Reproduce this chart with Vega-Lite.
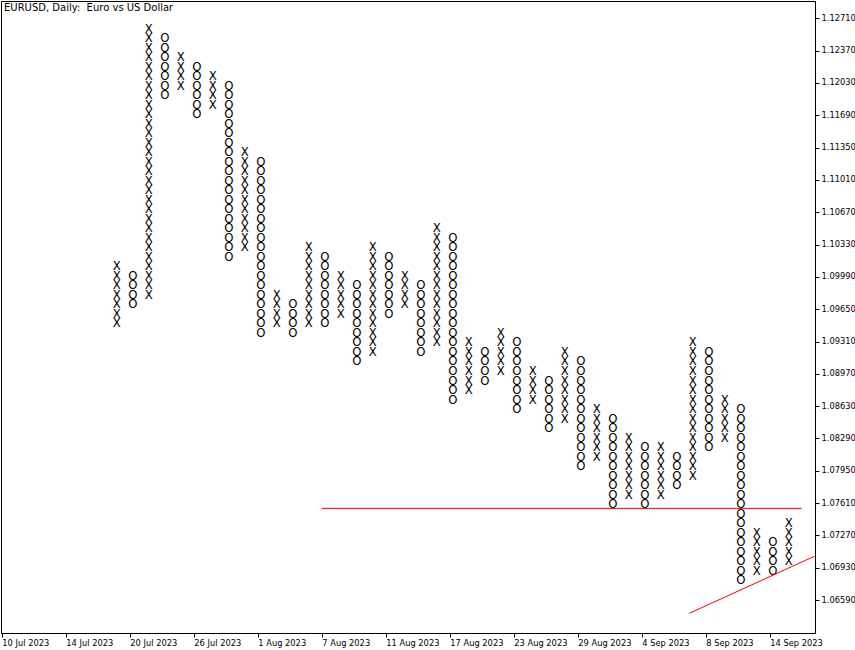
{
"$schema":"https://vega.github.io/schema/vega-lite/v6.json",
"width":814,"height":632,
"autosize":{"type":"none"},
"padding":{"left":1,"top":1,"right":40,"bottom":17},
"background":"#ffffff",
"title":{"text":"EURUSD, Daily:\u00a0 Euro vs US Dollar","anchor":"start","frame":"group","orient":"top","offset":-12,"dx":3,"font":"DejaVu Sans","fontSize":10,"fontWeight":"normal","color":"#000000"},
"config":{"view":{"stroke":"#000000","strokeWidth":1},"axis":{"grid":false,"domain":false,"tickColor":"#000000","labelColor":"#000000","labelFont":"DejaVu Sans","labelFontSize":8.3,"tickSize":4,"title":null,"labelOverlap":false,"labelSeparation":0}},
"datasets":{
"pf":[
{"c":7,"s":"X","p":1.095},{"c":7,"s":"X","p":1.096},{"c":7,"s":"X","p":1.097},{"c":7,"s":"X","p":1.098},{"c":7,"s":"X","p":1.099},{"c":7,"s":"X","p":1.100},{"c":7,"s":"X","p":1.101},
{"c":8,"s":"O","p":1.097},{"c":8,"s":"O","p":1.098},{"c":8,"s":"O","p":1.099},{"c":8,"s":"O","p":1.100},
{"c":9,"s":"X","p":1.098},{"c":9,"s":"X","p":1.099},{"c":9,"s":"X","p":1.100},{"c":9,"s":"X","p":1.101},{"c":9,"s":"X","p":1.102},{"c":9,"s":"X","p":1.103},{"c":9,"s":"X","p":1.104},{"c":9,"s":"X","p":1.105},{"c":9,"s":"X","p":1.106},{"c":9,"s":"X","p":1.107},{"c":9,"s":"X","p":1.108},{"c":9,"s":"X","p":1.109},{"c":9,"s":"X","p":1.110},{"c":9,"s":"X","p":1.111},{"c":9,"s":"X","p":1.112},{"c":9,"s":"X","p":1.113},{"c":9,"s":"X","p":1.114},{"c":9,"s":"X","p":1.115},{"c":9,"s":"X","p":1.116},{"c":9,"s":"X","p":1.117},{"c":9,"s":"X","p":1.118},{"c":9,"s":"X","p":1.119},{"c":9,"s":"X","p":1.120},{"c":9,"s":"X","p":1.121},{"c":9,"s":"X","p":1.122},{"c":9,"s":"X","p":1.123},{"c":9,"s":"X","p":1.124},{"c":9,"s":"X","p":1.125},{"c":9,"s":"X","p":1.126},
{"c":10,"s":"O","p":1.119},{"c":10,"s":"O","p":1.120},{"c":10,"s":"O","p":1.121},{"c":10,"s":"O","p":1.122},{"c":10,"s":"O","p":1.123},{"c":10,"s":"O","p":1.124},{"c":10,"s":"O","p":1.125},
{"c":11,"s":"X","p":1.120},{"c":11,"s":"X","p":1.121},{"c":11,"s":"X","p":1.122},{"c":11,"s":"X","p":1.123},
{"c":12,"s":"O","p":1.117},{"c":12,"s":"O","p":1.118},{"c":12,"s":"O","p":1.119},{"c":12,"s":"O","p":1.120},{"c":12,"s":"O","p":1.121},{"c":12,"s":"O","p":1.122},
{"c":13,"s":"X","p":1.118},{"c":13,"s":"X","p":1.119},{"c":13,"s":"X","p":1.120},{"c":13,"s":"X","p":1.121},
{"c":14,"s":"O","p":1.102},{"c":14,"s":"O","p":1.103},{"c":14,"s":"O","p":1.104},{"c":14,"s":"O","p":1.105},{"c":14,"s":"O","p":1.106},{"c":14,"s":"O","p":1.107},{"c":14,"s":"O","p":1.108},{"c":14,"s":"O","p":1.109},{"c":14,"s":"O","p":1.110},{"c":14,"s":"O","p":1.111},{"c":14,"s":"O","p":1.112},{"c":14,"s":"O","p":1.113},{"c":14,"s":"O","p":1.114},{"c":14,"s":"O","p":1.115},{"c":14,"s":"O","p":1.116},{"c":14,"s":"O","p":1.117},{"c":14,"s":"O","p":1.118},{"c":14,"s":"O","p":1.119},{"c":14,"s":"O","p":1.120},
{"c":15,"s":"X","p":1.103},{"c":15,"s":"X","p":1.104},{"c":15,"s":"X","p":1.105},{"c":15,"s":"X","p":1.106},{"c":15,"s":"X","p":1.107},{"c":15,"s":"X","p":1.108},{"c":15,"s":"X","p":1.109},{"c":15,"s":"X","p":1.110},{"c":15,"s":"X","p":1.111},{"c":15,"s":"X","p":1.112},{"c":15,"s":"X","p":1.113},
{"c":16,"s":"O","p":1.094},{"c":16,"s":"O","p":1.095},{"c":16,"s":"O","p":1.096},{"c":16,"s":"O","p":1.097},{"c":16,"s":"O","p":1.098},{"c":16,"s":"O","p":1.099},{"c":16,"s":"O","p":1.100},{"c":16,"s":"O","p":1.101},{"c":16,"s":"O","p":1.102},{"c":16,"s":"O","p":1.103},{"c":16,"s":"O","p":1.104},{"c":16,"s":"O","p":1.105},{"c":16,"s":"O","p":1.106},{"c":16,"s":"O","p":1.107},{"c":16,"s":"O","p":1.108},{"c":16,"s":"O","p":1.109},{"c":16,"s":"O","p":1.110},{"c":16,"s":"O","p":1.111},{"c":16,"s":"O","p":1.112},
{"c":17,"s":"X","p":1.095},{"c":17,"s":"X","p":1.096},{"c":17,"s":"X","p":1.097},{"c":17,"s":"X","p":1.098},
{"c":18,"s":"O","p":1.094},{"c":18,"s":"O","p":1.095},{"c":18,"s":"O","p":1.096},{"c":18,"s":"O","p":1.097},
{"c":19,"s":"X","p":1.095},{"c":19,"s":"X","p":1.096},{"c":19,"s":"X","p":1.097},{"c":19,"s":"X","p":1.098},{"c":19,"s":"X","p":1.099},{"c":19,"s":"X","p":1.100},{"c":19,"s":"X","p":1.101},{"c":19,"s":"X","p":1.102},{"c":19,"s":"X","p":1.103},
{"c":20,"s":"O","p":1.095},{"c":20,"s":"O","p":1.096},{"c":20,"s":"O","p":1.097},{"c":20,"s":"O","p":1.098},{"c":20,"s":"O","p":1.099},{"c":20,"s":"O","p":1.100},{"c":20,"s":"O","p":1.101},{"c":20,"s":"O","p":1.102},
{"c":21,"s":"X","p":1.096},{"c":21,"s":"X","p":1.097},{"c":21,"s":"X","p":1.098},{"c":21,"s":"X","p":1.099},{"c":21,"s":"X","p":1.100},
{"c":22,"s":"O","p":1.091},{"c":22,"s":"O","p":1.092},{"c":22,"s":"O","p":1.093},{"c":22,"s":"O","p":1.094},{"c":22,"s":"O","p":1.095},{"c":22,"s":"O","p":1.096},{"c":22,"s":"O","p":1.097},{"c":22,"s":"O","p":1.098},{"c":22,"s":"O","p":1.099},
{"c":23,"s":"X","p":1.092},{"c":23,"s":"X","p":1.093},{"c":23,"s":"X","p":1.094},{"c":23,"s":"X","p":1.095},{"c":23,"s":"X","p":1.096},{"c":23,"s":"X","p":1.097},{"c":23,"s":"X","p":1.098},{"c":23,"s":"X","p":1.099},{"c":23,"s":"X","p":1.100},{"c":23,"s":"X","p":1.101},{"c":23,"s":"X","p":1.102},{"c":23,"s":"X","p":1.103},
{"c":24,"s":"O","p":1.096},{"c":24,"s":"O","p":1.097},{"c":24,"s":"O","p":1.098},{"c":24,"s":"O","p":1.099},{"c":24,"s":"O","p":1.100},{"c":24,"s":"O","p":1.101},{"c":24,"s":"O","p":1.102},
{"c":25,"s":"X","p":1.097},{"c":25,"s":"X","p":1.098},{"c":25,"s":"X","p":1.099},{"c":25,"s":"X","p":1.100},
{"c":26,"s":"O","p":1.092},{"c":26,"s":"O","p":1.093},{"c":26,"s":"O","p":1.094},{"c":26,"s":"O","p":1.095},{"c":26,"s":"O","p":1.096},{"c":26,"s":"O","p":1.097},{"c":26,"s":"O","p":1.098},{"c":26,"s":"O","p":1.099},
{"c":27,"s":"X","p":1.093},{"c":27,"s":"X","p":1.094},{"c":27,"s":"X","p":1.095},{"c":27,"s":"X","p":1.096},{"c":27,"s":"X","p":1.097},{"c":27,"s":"X","p":1.098},{"c":27,"s":"X","p":1.099},{"c":27,"s":"X","p":1.100},{"c":27,"s":"X","p":1.101},{"c":27,"s":"X","p":1.102},{"c":27,"s":"X","p":1.103},{"c":27,"s":"X","p":1.104},{"c":27,"s":"X","p":1.105},
{"c":28,"s":"O","p":1.087},{"c":28,"s":"O","p":1.088},{"c":28,"s":"O","p":1.089},{"c":28,"s":"O","p":1.090},{"c":28,"s":"O","p":1.091},{"c":28,"s":"O","p":1.092},{"c":28,"s":"O","p":1.093},{"c":28,"s":"O","p":1.094},{"c":28,"s":"O","p":1.095},{"c":28,"s":"O","p":1.096},{"c":28,"s":"O","p":1.097},{"c":28,"s":"O","p":1.098},{"c":28,"s":"O","p":1.099},{"c":28,"s":"O","p":1.100},{"c":28,"s":"O","p":1.101},{"c":28,"s":"O","p":1.102},{"c":28,"s":"O","p":1.103},{"c":28,"s":"O","p":1.104},
{"c":29,"s":"X","p":1.088},{"c":29,"s":"X","p":1.089},{"c":29,"s":"X","p":1.090},{"c":29,"s":"X","p":1.091},{"c":29,"s":"X","p":1.092},{"c":29,"s":"X","p":1.093},
{"c":30,"s":"O","p":1.089},{"c":30,"s":"O","p":1.090},{"c":30,"s":"O","p":1.091},{"c":30,"s":"O","p":1.092},
{"c":31,"s":"X","p":1.090},{"c":31,"s":"X","p":1.091},{"c":31,"s":"X","p":1.092},{"c":31,"s":"X","p":1.093},{"c":31,"s":"X","p":1.094},
{"c":32,"s":"O","p":1.086},{"c":32,"s":"O","p":1.087},{"c":32,"s":"O","p":1.088},{"c":32,"s":"O","p":1.089},{"c":32,"s":"O","p":1.090},{"c":32,"s":"O","p":1.091},{"c":32,"s":"O","p":1.092},{"c":32,"s":"O","p":1.093},
{"c":33,"s":"X","p":1.087},{"c":33,"s":"X","p":1.088},{"c":33,"s":"X","p":1.089},{"c":33,"s":"X","p":1.090},
{"c":34,"s":"O","p":1.084},{"c":34,"s":"O","p":1.085},{"c":34,"s":"O","p":1.086},{"c":34,"s":"O","p":1.087},{"c":34,"s":"O","p":1.088},{"c":34,"s":"O","p":1.089},
{"c":35,"s":"X","p":1.085},{"c":35,"s":"X","p":1.086},{"c":35,"s":"X","p":1.087},{"c":35,"s":"X","p":1.088},{"c":35,"s":"X","p":1.089},{"c":35,"s":"X","p":1.090},{"c":35,"s":"X","p":1.091},{"c":35,"s":"X","p":1.092},
{"c":36,"s":"O","p":1.080},{"c":36,"s":"O","p":1.081},{"c":36,"s":"O","p":1.082},{"c":36,"s":"O","p":1.083},{"c":36,"s":"O","p":1.084},{"c":36,"s":"O","p":1.085},{"c":36,"s":"O","p":1.086},{"c":36,"s":"O","p":1.087},{"c":36,"s":"O","p":1.088},{"c":36,"s":"O","p":1.089},{"c":36,"s":"O","p":1.090},{"c":36,"s":"O","p":1.091},
{"c":37,"s":"X","p":1.081},{"c":37,"s":"X","p":1.082},{"c":37,"s":"X","p":1.083},{"c":37,"s":"X","p":1.084},{"c":37,"s":"X","p":1.085},{"c":37,"s":"X","p":1.086},
{"c":38,"s":"O","p":1.076},{"c":38,"s":"O","p":1.077},{"c":38,"s":"O","p":1.078},{"c":38,"s":"O","p":1.079},{"c":38,"s":"O","p":1.080},{"c":38,"s":"O","p":1.081},{"c":38,"s":"O","p":1.082},{"c":38,"s":"O","p":1.083},{"c":38,"s":"O","p":1.084},{"c":38,"s":"O","p":1.085},
{"c":39,"s":"X","p":1.077},{"c":39,"s":"X","p":1.078},{"c":39,"s":"X","p":1.079},{"c":39,"s":"X","p":1.080},{"c":39,"s":"X","p":1.081},{"c":39,"s":"X","p":1.082},{"c":39,"s":"X","p":1.083},
{"c":40,"s":"O","p":1.076},{"c":40,"s":"O","p":1.077},{"c":40,"s":"O","p":1.078},{"c":40,"s":"O","p":1.079},{"c":40,"s":"O","p":1.080},{"c":40,"s":"O","p":1.081},{"c":40,"s":"O","p":1.082},
{"c":41,"s":"X","p":1.077},{"c":41,"s":"X","p":1.078},{"c":41,"s":"X","p":1.079},{"c":41,"s":"X","p":1.080},{"c":41,"s":"X","p":1.081},{"c":41,"s":"X","p":1.082},
{"c":42,"s":"O","p":1.078},{"c":42,"s":"O","p":1.079},{"c":42,"s":"O","p":1.080},{"c":42,"s":"O","p":1.081},
{"c":43,"s":"X","p":1.079},{"c":43,"s":"X","p":1.080},{"c":43,"s":"X","p":1.081},{"c":43,"s":"X","p":1.082},{"c":43,"s":"X","p":1.083},{"c":43,"s":"X","p":1.084},{"c":43,"s":"X","p":1.085},{"c":43,"s":"X","p":1.086},{"c":43,"s":"X","p":1.087},{"c":43,"s":"X","p":1.088},{"c":43,"s":"X","p":1.089},{"c":43,"s":"X","p":1.090},{"c":43,"s":"X","p":1.091},{"c":43,"s":"X","p":1.092},{"c":43,"s":"X","p":1.093},
{"c":44,"s":"O","p":1.082},{"c":44,"s":"O","p":1.083},{"c":44,"s":"O","p":1.084},{"c":44,"s":"O","p":1.085},{"c":44,"s":"O","p":1.086},{"c":44,"s":"O","p":1.087},{"c":44,"s":"O","p":1.088},{"c":44,"s":"O","p":1.089},{"c":44,"s":"O","p":1.090},{"c":44,"s":"O","p":1.091},{"c":44,"s":"O","p":1.092},
{"c":45,"s":"X","p":1.083},{"c":45,"s":"X","p":1.084},{"c":45,"s":"X","p":1.085},{"c":45,"s":"X","p":1.086},{"c":45,"s":"X","p":1.087},
{"c":46,"s":"O","p":1.068},{"c":46,"s":"O","p":1.069},{"c":46,"s":"O","p":1.070},{"c":46,"s":"O","p":1.071},{"c":46,"s":"O","p":1.072},{"c":46,"s":"O","p":1.073},{"c":46,"s":"O","p":1.074},{"c":46,"s":"O","p":1.075},{"c":46,"s":"O","p":1.076},{"c":46,"s":"O","p":1.077},{"c":46,"s":"O","p":1.078},{"c":46,"s":"O","p":1.079},{"c":46,"s":"O","p":1.080},{"c":46,"s":"O","p":1.081},{"c":46,"s":"O","p":1.082},{"c":46,"s":"O","p":1.083},{"c":46,"s":"O","p":1.084},{"c":46,"s":"O","p":1.085},{"c":46,"s":"O","p":1.086},
{"c":47,"s":"X","p":1.069},{"c":47,"s":"X","p":1.070},{"c":47,"s":"X","p":1.071},{"c":47,"s":"X","p":1.072},{"c":47,"s":"X","p":1.073},
{"c":48,"s":"O","p":1.069},{"c":48,"s":"O","p":1.070},{"c":48,"s":"O","p":1.071},{"c":48,"s":"O","p":1.072},
{"c":49,"s":"X","p":1.070},{"c":49,"s":"X","p":1.071},{"c":49,"s":"X","p":1.072},{"c":49,"s":"X","p":1.073},{"c":49,"s":"X","p":1.074}
],
"lines":[
{"c":20,"p":1.07555,"c2":50,"p2":1.07555},
{"c":42.97,"p":1.06451,"c2":50.8,"p2":1.07052}
]
},
"encoding":{
  "x":{"field":"c","type":"quantitative","scale":{"domain":[-0.05,50.825],"nice":false,"zero":false},
       "axis":{"orient":"bottom","values":[0,4,8,12,16,20,24,28,32,36,40,44,48],"labelExpr":"['10 Jul 2023','14 Jul 2023','20 Jul 2023','26 Jul 2023','1 Aug 2023','7 Aug 2023','11 Aug 2023','17 Aug 2023','23 Aug 2023','29 Aug 2023','4 Sep 2023','8 Sep 2023','14 Sep 2023'][round(datum.value/4)]","labelAlign":"left","labelBaseline":"top","labelPadding":1,"labelFlush":false,"labelOverlap":false,"labelBound":false,"title":null}},
  "y":{"field":"p","type":"quantitative","scale":{"domain":[1.06244,1.12892],"nice":false,"zero":false},
       "axis":{"orient":"right","values":[1.0659,1.0693,1.0727,1.0761,1.0795,1.0829,1.0863,1.0897,1.0931,1.0965,1.0999,1.1033,1.1067,1.1101,1.1135,1.1169,1.1203,1.1237,1.1271],"format":".5f","labelAlign":"left","labelBaseline":"middle","labelPadding":2,"labelFlush":false,"labelOverlap":false,"labelBound":false,"title":null}}
},
"layer":[
{"data":{"name":"pf"},
 "mark":{"type":"text","font":"Liberation Sans Narrow, DejaVu Sans Condensed, DejaVu Sans","fontSize":13,"align":"center","baseline":"middle","dx":3,"color":"#000000"},
 "encoding":{"text":{"field":"s"}}},
{"data":{"name":"lines"},
 "mark":{"type":"rule","color":"#ff0000","strokeWidth":1,"clip":true},
 "encoding":{"x2":{"field":"c2"},"y2":{"field":"p2"}}}
]
}
